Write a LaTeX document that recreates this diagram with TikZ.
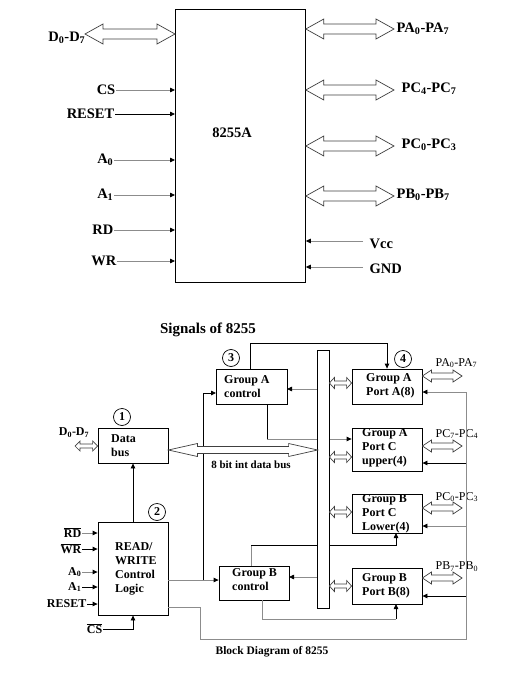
\documentclass[tikz,border=0pt]{standalone}
\usepackage{fontspec}
\setmainfont{Liberation Serif}
\usetikzlibrary{arrows.meta,calc}
\tikzset{
 arr/.style={-{Triangle[length=5pt,width=4.5pt]}, line width=0.8pt},
 garr/.style={arr, draw=black!45, -{Triangle[length=5pt,width=4.5pt,fill=black,color=black]}},
 gline/.style={line width=0.8pt, draw=black!45},
 bline/.style={line width=0.8pt},
 dblar/.style={draw=black!75, line width=0.7pt, fill=white, line join=miter},
 toplbl/.style={font=\fontsize{14.5}{16}\selectfont\bfseries, inner sep=0.5pt},
 lowlbl/.style={font=\fontsize{12}{14}\selectfont\bfseries, inner sep=0.5pt},
 portlbl/.style={font=\fontsize{12}{14}\selectfont, inner sep=0.5pt},
 blk/.style={draw, line width=0.8pt, inner sep=0pt},
 blktxt/.style={align=left, font=\fontsize{12}{14}\selectfont\bfseries, inner sep=0pt, anchor=west},
 num/.style={draw, circle, line width=0.7pt, minimum size=17pt, inner sep=0pt, font=\fontsize{12}{14}\selectfont\bfseries},
}
% double arrow: #1 left coord, #2 right coord, #3 head length, #4 head half width, #5 shaft half width
\newcommand\darrow[5]{%
\draw[dblar] let \p1=(#1), \p2=(#2) in (\x1,\y1) -- (\x1+#3pt,\y1+#4pt) -- (\x1+#3pt,\y1+#5pt) -- (\x2-#3pt,\y1+#5pt) -- (\x2-#3pt,\y1+#4pt) -- (\x2,\y1) -- (\x2-#3pt,\y1-#4pt) -- (\x2-#3pt,\y1-#5pt) -- (\x1+#3pt,\y1-#5pt) -- (\x1+#3pt,\y1-#4pt) -- cycle;}
\begin{document}
\begin{tikzpicture}[x=1pt,y=-1pt]
\useasboundingbox (0,0) rectangle (525,676);

% ===== top: pin diagram =====
\node[blk, minimum width=130pt, minimum height=273pt, anchor=north west] (chip) at (175,9) {};
\node[toplbl] (chipname) at (232,133) {8255A};

\node[toplbl, anchor=east] (d07) at (86,38) {D\textsubscript{0}-D\textsubscript{7}};
\node[toplbl, anchor=east] (cs) at (116,90) {CS};
\node[toplbl, anchor=east] (reset) at (115,114) {RESET};
\node[toplbl, anchor=east] (a0) at (114,160) {A\textsubscript{0}};
\node[toplbl, anchor=east] (a1) at (114,195) {A\textsubscript{1}};
\node[toplbl, anchor=east] (rd) at (114,230) {RD};
\node[toplbl, anchor=east] (wr) at (117,261) {WR};

\coordinate (ddT) at (85,34);
\darrow{ddT}{chip.west |- ddT}{18}{10}{5}

\draw[garr] (cs.east) -- (cs.east -| chip.west);
\draw[arr] (reset.east) -- (reset.east -| chip.west);
\draw[garr] (a0.east) -- (a0.east -| chip.west);
\draw[garr] (a1.east) -- (a1.east -| chip.west);
\draw[garr] (rd.east) -- (rd.east -| chip.west);
\draw[garr] (wr.east) -- (wr.east -| chip.west);

\node[toplbl, anchor=west] (pal) at (396,29) {PA\textsubscript{0}-PA\textsubscript{7}};
\node[toplbl, anchor=west] (pc47l) at (401,89) {PC\textsubscript{4}-PC\textsubscript{7}};
\node[toplbl, anchor=west] (pc03l) at (401,145) {PC\textsubscript{0}-PC\textsubscript{3}};
\node[toplbl, anchor=west] (pbl) at (396,195) {PB\textsubscript{0}-PB\textsubscript{7}};
\node[toplbl, anchor=west] (vcc) at (369,244) {Vcc};
\node[toplbl, anchor=west] (gnd) at (369,269) {GND};

\coordinate (paT) at (394,29);
\coordinate (pc47T) at (394,90);
\coordinate (pc03T) at (394,146);
\coordinate (pbT) at (394,196);
\darrow{chip.east |- paT}{paT}{18}{10}{5}
\darrow{chip.east |- pc47T}{pc47T}{18}{10}{5}
\darrow{chip.east |- pc03T}{pc03T}{18}{10}{5}
\darrow{chip.east |- pbT}{pbT}{18}{10}{5}

\coordinate (vccT) at (363,241);
\coordinate (gndT) at (363,267);
\draw[garr] (vccT) -- (vccT -| chip.east);
\draw[garr] (gndT) -- (gndT -| chip.east);

% ===== bottom: block diagram =====
\node[font=\fontsize{15}{17}\selectfont\bfseries, inner sep=0pt] (sig) at (208,330) {Signals of 8255};

\node[blk, minimum width=71pt, minimum height=35pt] (ga) at (251.5,386.5) {};
\node[blk, minimum width=70pt, minimum height=35pt] (db) at (133,445.5) {};
\node[blk, minimum width=70pt, minimum height=93pt] (rw) at (133,568.5) {};
\node[blk, minimum width=70pt, minimum height=34pt] (gb) at (254,583) {};
\node[blk, minimum width=70pt, minimum height=35pt] (pa) at (387,386.5) {};
\node[blk, minimum width=70pt, minimum height=43pt] (pcu) at (387,449.5) {};
\node[blk, minimum width=70pt, minimum height=39pt] (pcl) at (387,513.5) {};
\node[blk, minimum width=70pt, minimum height=36pt] (pb) at (387,586) {};
\node[blk, fill=white, minimum width=11pt, minimum height=257pt] (bar) at (323.5,479.5) {};

\node[blktxt] (gat) at (224,386.5) {Group A\\control};
\node[blktxt] (dbt) at (111,445.5) {Data\\bus};
\node[blktxt] (rwt) at (115,568.5) {READ/\\WRITE\\Control\\Logic};
\node[blktxt] (gbt) at (232,580) {Group B\\control};
\node[blktxt] (pat) at (366,386) {Group A\\Port A(8)};
\node[blktxt] (pcut) at (362,448) {Group A\\Port C\\upper(4)};
\node[blktxt] (pclt) at (362,514) {Group B\\Port C\\Lower(4)};
\node[blktxt] (pbt) at (362,586) {Group B\\Port B(8)};

\node[num] (n1) at (122,417) {1};
\node[num] (n2) at (157,512) {2};
\node[num] (n3) at (231,358) {3};
\node[num] (n4) at (403,359) {4};

\node[portlbl, anchor=west] (palo) at (435,363) {PA\textsubscript{0}-PA\textsubscript{7}};
\node[portlbl, anchor=west] (pculo) at (435,434) {PC\textsubscript{7}-PC\textsubscript{4}};
\node[portlbl, anchor=west] (pcllo) at (435,497) {PC\textsubscript{0}-PC\textsubscript{3}};
\node[portlbl, anchor=west] (pblo) at (435,567) {PB\textsubscript{7}-PB\textsubscript{0}};

\node[lowlbl] (dlo) at (74,433) {D\textsubscript{0}-D\textsubscript{7}};
\node[lowlbl, anchor=east] (rdl) at (82,533) {$\overline{\mbox{RD}}$};
\node[lowlbl, anchor=east] (wrl) at (82,549) {$\overline{\mbox{WR}}$};
\node[lowlbl, anchor=east] (a0l) at (82,572) {A\textsubscript{0}};
\node[lowlbl, anchor=east] (a1l) at (82,587) {A\textsubscript{1}};
\node[lowlbl, anchor=east] (resetl) at (87,604) {RESET};
\node[lowlbl, anchor=east] (csl) at (103,629) {$\overline{\mbox{CS}}$};

\node[font=\fontsize{11}{13}\selectfont\bfseries, inner sep=0pt] (ibl) at (251,465) {8 bit int data bus};
\node[font=\fontsize{11.5}{13}\selectfont\bfseries, inner sep=0pt] (cap) at (272,652) {Block Diagram of 8255};

% inputs to R/W logic
\draw[garr] (rdl.east) -- (rdl.east -| rw.west);
\draw[arr] (wrl.east) -- (wrl.east -| rw.west);
\draw[garr] (a0l.east) -- (a0l.east -| rw.west);
\draw[arr] (a1l.east) -- (a1l.east -| rw.west);
\draw[arr] (resetl.east) -- (resetl.east -| rw.west);
\draw[arr] (csl.east) -| (rw.south);

% R/W logic to data bus
\draw[arr] (rw.north) -- (db.south);

% R/W logic outputs
\coordinate (rwo) at (168,580);
\coordinate (j1) at (203,580);
\coordinate (gain) at (216,393);
\draw[garr] (rwo) -- (rwo -| gb.west);
\draw[arr] (j1) |- (gain);

\coordinate (rwo2) at (168,607);
\coordinate (j2) at (200,607);
\coordinate (j3) at (200,639);
\coordinate (j4) at (466,639);
\coordinate (j5) at (466,392);
\draw[gline] (rwo2) -- (j2) -- (j3) -- (j4) -- (j5);
\coordinate (r2) at (466,463);
\coordinate (r3) at (466,526);
\coordinate (r4) at (466,596);
\draw[garr] (j5) -- (j5 -| pa.east);
\draw[arr] (r2) -- (r2 -| pcu.east);
\draw[garr] (r3) -- (r3 -| pcl.east);
\draw[arr] (r4) -- (r4 -| pb.east);

% group A control connections
\coordinate (gaR) at (287,389);
\draw[garr] (bar.west |- gaR) -- (gaR);
\coordinate (gat1) at (250,369);
\coordinate (gat2) at (250,343);
\draw[arr] (gat1) -- (gat2) -| (pa.north);
\coordinate (gab1) at (267,404);
\coordinate (gab2) at (267,439);
\draw[bline] (gab1) -- (gab2);
\draw[garr] (gab2) -- (gab2 -| pcu.west);

% group B control connections
\coordinate (gbR) at (289,577);
\draw[garr] (bar.west |- gbR) -- (gbR);
\coordinate (gbt1) at (251,566);
\coordinate (gbt2) at (251,545);
\coordinate (pclb) at (396,533);
\draw[gline] (gbt1) -- (gbt2);
\draw[arr] (gbt2) -| (pclb);
\coordinate (gbb1) at (262,600);
\coordinate (gbb2) at (262,619);
\coordinate (pbb) at (396,604);
\draw[gline] (gbb1) -- (gbb2) -- (gbb2 -| pbb);
\draw[arr] (gbb2 -| pbb) -- (pbb);

% bar redrawn on top
\draw[line width=0.8pt, fill=white] (bar.north west) rectangle (bar.south east);

% internal data bus
\coordinate (ibT) at (168,450);
\darrow{db.east |- ibT}{bar.west |- ibT}{29}{6.5}{3.5}

% external D0-D7
\coordinate (dlT) at (75,446);
\darrow{dlT}{dlT -| db.west}{5}{5}{2}

% bar to ports
\coordinate (bp1) at (329,383);
\coordinate (bp2) at (329,457);
\coordinate (bp3) at (329,512);
\coordinate (bp4) at (329,586);
\darrow{bar.east |- bp1}{bp1 -| pa.west}{5}{5.5}{2}
\darrow{bar.east |- bp2}{bp2 -| pcu.west}{5}{5.5}{2}
\darrow{bar.east |- bp3}{bp3 -| pcl.west}{5}{5.5}{2}
\darrow{bar.east |- bp4}{bp4 -| pb.west}{5}{5.5}{2}

% ports to outside
\coordinate (po1) at (462,376);
\coordinate (po2) at (462,446);
\coordinate (po3) at (462,508);
\coordinate (po4) at (462,578);
\darrow{pa.east |- po1}{po1}{9}{6}{3}
\darrow{pcu.east |- po2}{po2}{9}{6}{3}
\darrow{pcl.east |- po3}{po3}{9}{6}{3}
\darrow{pb.east |- po4}{po4}{9}{6}{3}
\end{tikzpicture}
\end{document}
